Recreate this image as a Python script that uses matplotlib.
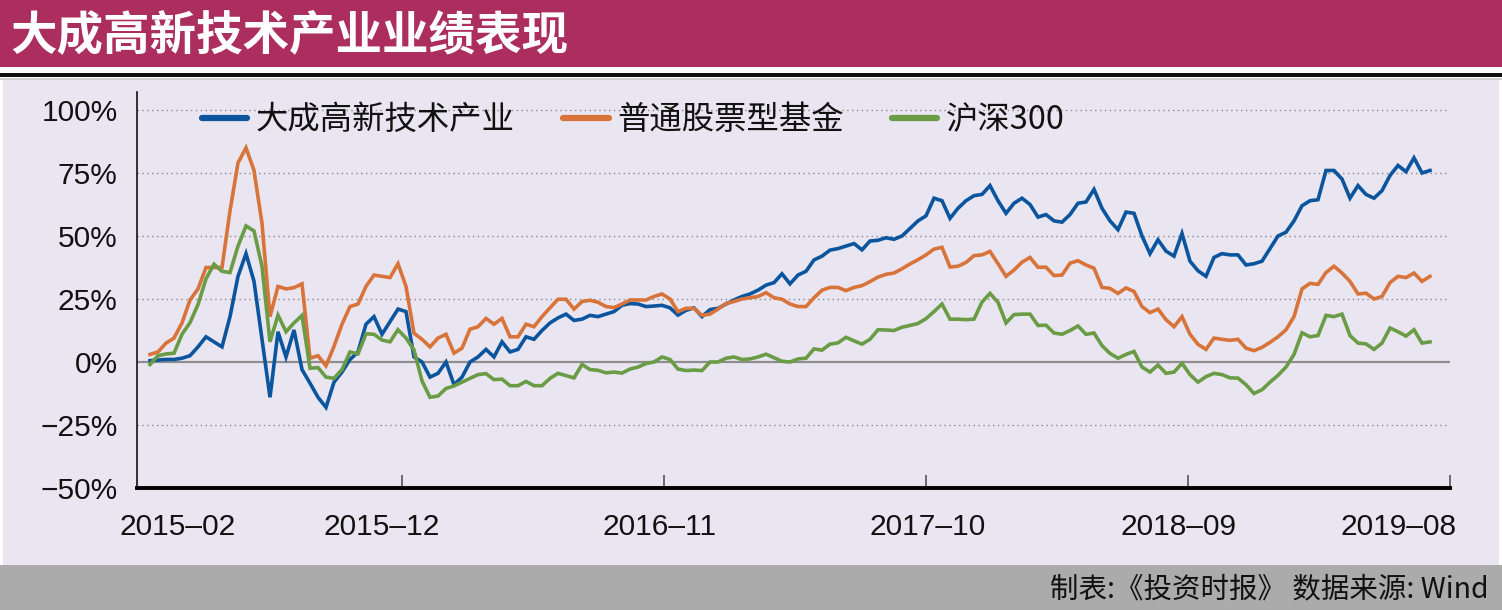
import matplotlib
matplotlib.use('Agg')
import matplotlib.pyplot as plt
import matplotlib.transforms as mtransforms
from matplotlib.patches import Rectangle
import numpy as np

plt.rcParams['font.family'] = ['Liberation Sans', 'Noto Sans CJK SC', 'DejaVu Sans']

# ---------------- data ----------------
title = "大成高新技术产业业绩表现"
source_text = "制表:《投资时报》 数据来源: Wind"
series_names = ["大成高新技术产业", "普通股票型基金", "沪深300"]
series_colors = ["#0B559F", "#D8733A", "#6A9B45"]

# cumulative return (%), weekly-ish samples from 2015-02 to 2019-08
fund = [
    0.5, 0.8, 1, 1, 1.5, 2.5, 6, 10, 8, 6,
    18, 34, 43, 32, 9, -14, 12, 2, 12.7, -3,
    -8.4, -14, -18, -8, -4, 1, 4, 15, 18, 11,
    16, 21, 20, 2, 0, -6, -4.5, 0, -9, -6,
    0, 2, 5, 2, 8, 4, 5, 10, 9, 12.5,
    15.5, 17.5, 19, 16.5, 17, 18.5, 18, 19, 20, 22.5,
    23.2, 23, 22, 22.2, 22.5, 21.5, 18.6, 20.5, 21.5, 18,
    20.8, 21.3, 23, 24.6, 26, 27, 28.5, 30.5, 31.5, 35,
    31, 34.5, 36, 40.5, 42, 44.4, 45, 46, 47, 44.5,
    48, 48.3, 49.3, 48.7, 50, 53, 56, 58, 65, 64,
    57, 61, 64, 66, 66.5, 70, 64, 59, 63, 65,
    62.5, 57.5, 58.5, 56, 55.5, 58.5, 63, 63.5, 68.5, 61,
    56, 52.5, 59.5, 59, 50, 43, 48.5, 44, 42, 51,
    40, 36.2, 34, 41.5, 43, 42.5, 42.5, 38.5, 39, 40,
    45, 50, 51.5, 56, 62, 64, 64.4, 76, 76, 72.6,
    65, 70, 66.5, 65, 68, 74, 78, 75.5, 81, 75,
    76,
]
equity_funds = [
    3, 4, 7.5, 9.5, 15.5, 24.6, 29, 37.5, 37.5, 37.5,
    60, 79, 85, 76, 55, 18, 30, 29, 29.5, 31,
    1.5, 2.5, -1.5, 6.2, 15, 22, 23, 30, 34.5, 34,
    33.5, 39, 30, 11.4, 9, 6, 9.5, 11, 3.5, 5.5,
    13, 14, 17.3, 15, 17.3, 10, 10, 15, 14, 18,
    21.5, 24.9, 24.9, 21, 24, 24.5, 23.7, 22, 21.6, 23,
    24.6, 24.6, 24.6, 26, 27, 25, 20, 21.3, 21.3, 18.5,
    19, 21, 23.2, 24, 25, 25.5, 26, 27.5, 25.5, 24.9,
    23, 22, 22, 25.5, 28.5, 29.6, 29.6, 28.3, 29.6, 30.3,
    31.9, 33.7, 34.8, 35.3, 37, 38.9, 40.6, 42.5, 44.8, 45.5,
    37.7, 38, 39.5, 42.2, 42.5, 43.9, 39, 34, 36.5, 39.6,
    41.5, 37.6, 37.6, 34.3, 34.5, 39.2, 40.2, 38.5, 37.2, 29.6,
    29.2, 27.2, 29.4, 28, 22, 19.6, 21, 16.8, 14, 18,
    11, 7, 5, 9.5, 9, 8.6, 9, 5.5, 4.5, 5.8,
    7.8, 10, 12.8, 18, 29, 31.2, 30.8, 35.5, 38, 35.3,
    32, 27, 27.3, 25, 26, 31.5, 34, 33.5, 35.3, 32,
    34,
]
csi300 = [
    -1, 2.5, 3.2, 3.5, 11, 15.6, 22.8, 33, 38.8, 36,
    35.5, 46, 54, 52, 38, 8, 18.6, 12, 15.5, 18.5,
    -2.5, -2.2, -6, -6.5, -3, 4, 3.2, 11.2, 11, 8.7,
    8, 12.8, 9.5, 4.8, -7.5, -14, -13.5, -10.5, -9.5, -8,
    -6.5, -5, -4.6, -7, -6.8, -9.4, -9.4, -7.7, -9.4, -9.4,
    -6.5, -4.5, -5.4, -6.3, -1, -3, -3.3, -4.3, -4, -4.4,
    -2.8, -2, -0.6, 0, 2, 1, -2.8, -3.4, -3.2, -3.4,
    0, 0, 1.5, 2, 1, 1.2, 2, 3.1, 1.7, 0.3,
    0, 1.2, 1.5, 5.2, 4.7, 7.1, 7.6, 9.8, 8.4, 7.1,
    9, 12.8, 12.7, 12.5, 13.8, 14.5, 15.3, 17.2, 20, 23,
    17, 17, 16.8, 17, 23.8, 27.2, 23.7, 15.5, 18.8, 19,
    19, 14.5, 14.6, 11.5, 11, 12.5, 14.3, 11, 11.5, 6.5,
    3.4, 1.5, 3, 4.2, -2, -4, -1.2, -4.5, -4, -0.5,
    -5, -8, -5.8, -4.5, -5, -6.3, -6.4, -9, -12.5, -11,
    -8, -5.3, -2, 3, 11.6, 10, 10.5, 18.5, 18, 19,
    10.5, 7.5, 7.2, 5, 7.5, 13.5, 12, 10.3, 12.8, 7.5,
    8,
]

x_tick_labels = ["2015–02", "2015–12", "2016–11", "2017–10", "2018–09", "2019–08"]
x_label_pos = [3.5, 28.9, 63.75, 97.25, 128.6, 156.1]   # label centres (sample index)
x_tick_pos = [31.5, 64.25, 97, 129.75, 162.5]             # tick marks (sample index)
y_ticks = [-50, -25, 0, 25, 50, 75, 100]
y_tick_labels = ["−50%", "−25%", "0%", "25%", "50%", "75%", "100%"]

# ---------------- figure ----------------
W, H = 1502, 610
fig = plt.figure(figsize=(W / 100, H / 100), dpi=100, facecolor='white')

def fy(py):
    return 1 - py / H

def add_rect(x0, y0, w, h, col):
    fig.patches.append(Rectangle((x0, y0), w, h, transform=fig.transFigure,
                                 facecolor=col, edgecolor='none', zorder=-10))

add_rect(0, fy(67), 1, 67 / H, '#AC2E5E')
add_rect(0, fy(77), 1, 4 / H, '#111111')
add_rect(0, fy(80), 1, 2 / H, '#D0D0D0')
add_rect(3 / W, fy(565), (1499 - 3) / W, (565 - 80) / H, '#E9E6F1')
add_rect(0, 0, 1, 45 / H, '#ABABAB')

fig.text(10 / W, fy(35), title, color='white', fontsize=33.5, fontweight='heavy',
         family=['Noto Sans CJK SC'], ha='left', va='center')
fig.text(1489 / W, fy(589), source_text, color='#111111', fontsize=20.5,
         family=['Noto Sans CJK SC', 'DejaVu Sans'], ha='right', va='center')

ax = fig.add_axes([137 / W, 1 - 488 / H, (1450 - 137) / W, (488 - 92) / H])
ax.set_facecolor('none')
ax.set_zorder(5)

x = np.arange(len(fund))
for vals, name, col in [(fund, series_names[0], series_colors[0]),
                        (equity_funds, series_names[1], series_colors[1]),
                        (csi300, series_names[2], series_colors[2])]:
    ax.plot(x, vals, color=col, lw=2.6, label=name, solid_joinstyle='miter', zorder=3)

ax.set_xlim((137 - 150) / 8, (1450 - 150) / 8)
ax.set_ylim(-50, (362 - 92) / 2.52)

# grid
for yv in [-25, 25, 50, 75, 100]:
    ax.axhline(yv, color='#8A8A8A', lw=1.0, ls=(0, (1, 2.5)), zorder=1)
ax.axhline(0, color='#8E8E8E', lw=1.6, zorder=2)

for s in ['top', 'right']:
    ax.spines[s].set_visible(False)
ax.spines['left'].set_color('#111111')
ax.spines['left'].set_linewidth(1.2)
ax.spines['bottom'].set_color('#000000')
ax.spines['bottom'].set_linewidth(2.8)

ax.set_yticks(y_ticks)
ax.set_yticklabels(y_tick_labels)
ax.tick_params(axis='y', length=0, pad=14, labelsize=21.5, labelcolor='#111111')
ax.set_xticks(x_tick_pos)
ax.set_xticklabels([])
ax.tick_params(axis='x', direction='in', length=9.5, width=1.2, color='#555555')

trans = mtransforms.blended_transform_factory(ax.transData, ax.transAxes)
for p, lab in zip(x_label_pos, x_tick_labels):
    ax.text(p, -0.098, lab, transform=trans, ha='center', va='center',
            fontsize=21.5, color='#111111')

leg = ax.legend(loc='center left', bbox_to_anchor=((202 - 137) / 1313, (488 - 120) / 396),
                ncol=3, frameon=False, handlelength=1.4,
                handletextpad=0.26, columnspacing=1.5, borderpad=0, borderaxespad=0,
                prop={'family': ['Noto Sans CJK SC', 'DejaVu Sans'], 'size': 23.3})
for ln in leg.get_lines():
    ln.set_linewidth(4.5)
    ln.set_solid_capstyle('round')
for t in leg.get_texts():
    t.set_color('#111111')

fig.savefig('out.png', dpi=100, facecolor='white')
